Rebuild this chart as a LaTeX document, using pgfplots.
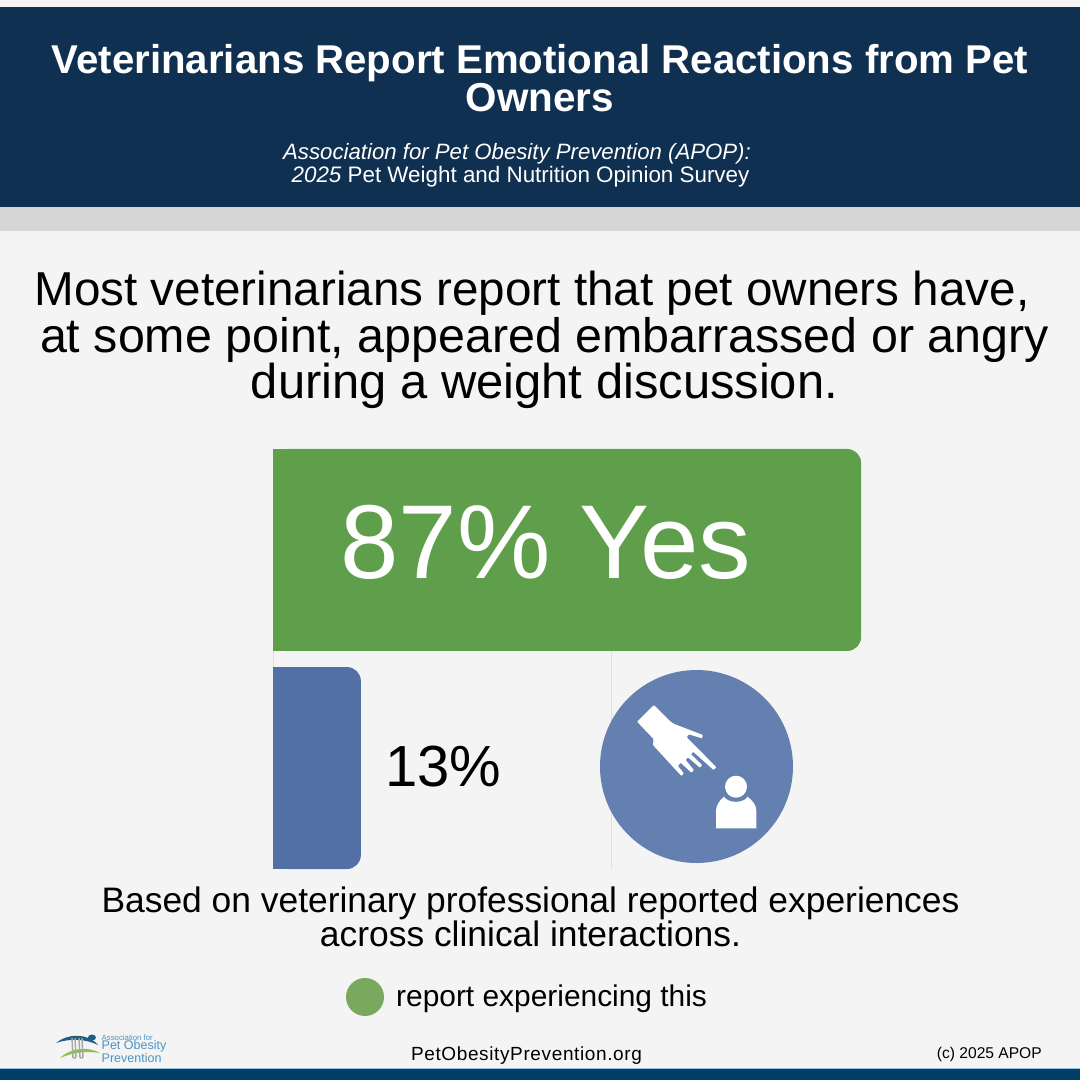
\documentclass[border=0pt]{standalone}
\usepackage{pgfplots}
\pgfplotsset{compat=1.18}
\usepackage{fontspec}
\setmainfont{Liberation Sans}
\definecolor{hdr}{HTML}{0F3050}
\definecolor{band}{HTML}{D6D6D6}
\definecolor{bg}{HTML}{F4F4F4}
\definecolor{foot}{HTML}{003F66}
\definecolor{yesg}{HTML}{5F9F4C}
\definecolor{nob}{HTML}{5270A6}
\definecolor{circ}{HTML}{6480B0}
\definecolor{leg}{HTML}{79A85F}
\definecolor{logob}{HTML}{4A94C4}
\definecolor{logod}{HTML}{1F5F85}
\definecolor{logog}{HTML}{8CC152}
\newcommand{\fs}[1]{\fontsize{#1pt}{#1pt}\selectfont}
\begin{document}
\begin{tikzpicture}[x=1pt,y=-1pt]
\path[use as bounding box,fill=bg] (0,0) rectangle (1080,1080);
\fill[hdr] (0,7) rectangle (1080,207);
\fill[band] (0,207) rectangle (1080,231);
\fill[foot] (0,1069) rectangle (1080,1080);
\fill[logob!60!white] (0,1068) rectangle (1080,1069);
% header
\node[white,font=\fs{40.2}\bfseries,anchor=base] at (540,73.5) {Veterinarians Report Emotional Reactions from Pet};
\node[white,font=\fs{40.4}\bfseries,anchor=base] at (540,111) {Owners};
\node[white,font=\fs{22.2},anchor=base] at (517,159.5) {\itshape Association for Pet Obesity Prevention (APOP):};
\node[white,font=\fs{22.4},anchor=base] at (520.5,182) {\itshape 2025 \upshape Pet Weight and Nutrition Opinion Survey};
% headline
\node[black,font=\fs{47.6},anchor=base] at (532,305) {Most veterinarians report that pet owners have,};
\node[black,font=\fs{48.4},anchor=base] at (544.5,352) {at some point, appeared embarrassed or angry};
\node[black,font=\fs{48.9},anchor=base] at (544.5,398.5) {during a weight discussion.};
% chart
\begin{axis}[
  at={(273pt,-869pt)},anchor=south west,scale only axis,
  width=608.4pt,height=420pt,
  xmin=0,xmax=90,ymin=-0.463,ymax=1.463,
  axis line style={draw=none},
  xtick={0,50},ytick=\empty,xticklabels={},
  major tick length=0pt,
  xmajorgrids,grid style={draw=black!12,line width=0.8pt},
  xbar,bar width=202pt,bar shift=0pt,clip=false]
\addplot[draw=none,fill=yesg,rounded corners=14pt] coordinates {(87,1)};
\addplot[draw=none,fill=nob,rounded corners=14pt] coordinates {(13,0)};
\addplot[draw=none,fill=yesg] coordinates {(5,1)};
\addplot[draw=none,fill=nob] coordinates {(5,0)};
\node[white,font=\fs{105},anchor=base] at (axis cs:40.35,0.867) {87\% Yes};
\node[black,font=\fs{58},anchor=base] at (axis cs:25.2,-0.086) {13\%};
\end{axis}
% icon
\fill[circ] (696.5,766.5) circle (96.5);
\fill[white,rounded corners=0.8pt] (654,705)--(670.7,721.7)--(674.3,724)--(702.9,735)--(702,738.3)--(688.6,734.3)--(686.8,737.3)--(716.4,767.3)--(713.6,770)--(693.2,751.7)--(691,754.3)--(702.1,765)--(700,767.7)--(687.9,757.3)--(685.7,760)--(693.9,770)--(691.4,772.7)--(680.7,762.7)--(677.9,766)--(683.9,773.3)--(681.4,776)--(652.9,745)--(653.6,739)--(637.1,721.7)--cycle;
\fill[white] (736,786.7) circle (11);
\fill[white] (716,828.3)--(716,811) .. controls (716,805) and (720,800) .. (724,796.7) .. controls (728,803.5) and (744,803.5) .. (747.5,796.7) .. controls (752,800) and (756.4,805) .. (756.4,811)--(756.4,828.3)--cycle;
% caption
\node[black,font=\fs{35.4},anchor=base] at (530.5,912.5) {Based on veterinary professional reported experiences};
\node[black,font=\fs{35.4},anchor=base] at (530.5,946.5) {across clinical interactions.};
% legend
\fill[leg] (365,997) circle (19);
\node[black,font=\fs{29.9},anchor=base west,inner sep=0pt] at (396,1006) {report experiencing this};
% footer
\node[black,font=\fs{19}\addfontfeatures{LetterSpace=3.3},anchor=base] at (526.5,1060) {PetObesityPrevention.org};
\node[black,font=\fs{15.6},anchor=base east,inner sep=0pt] at (1042,1058) {(c) 2025 APOP};
% logo
\fill[logog] (60,1058) .. controls (70,1048) and (88,1046) .. (100,1053) .. controls (88,1051) and (74,1052) .. (60,1058)--cycle;
\fill[logod] (56,1043) .. controls (68,1033) and (88,1033) .. (98,1045) .. controls (86,1039) and (70,1038) .. (56,1043)--cycle;
\draw[black!35,line width=1.4pt,rounded corners=1pt] (72,1038)--(73,1058)--(76,1058)--(75,1038);
\draw[black!35,line width=1.4pt,rounded corners=1pt] (79,1038)--(80,1058)--(83,1058)--(82,1038);
\fill[logod] (92,1037.5) ellipse (4 and 3);
\node[logob,font=\fs{7.8},anchor=base west,inner sep=0pt] at (101.5,1040) {Association for};
\node[logob,font=\fontsize{12.5pt}{10pt}\selectfont,anchor=north west,inner sep=0pt,align=left] at (101.5,1040.5) {Pet Obesity\\Prevention};
\end{tikzpicture}
\end{document}
